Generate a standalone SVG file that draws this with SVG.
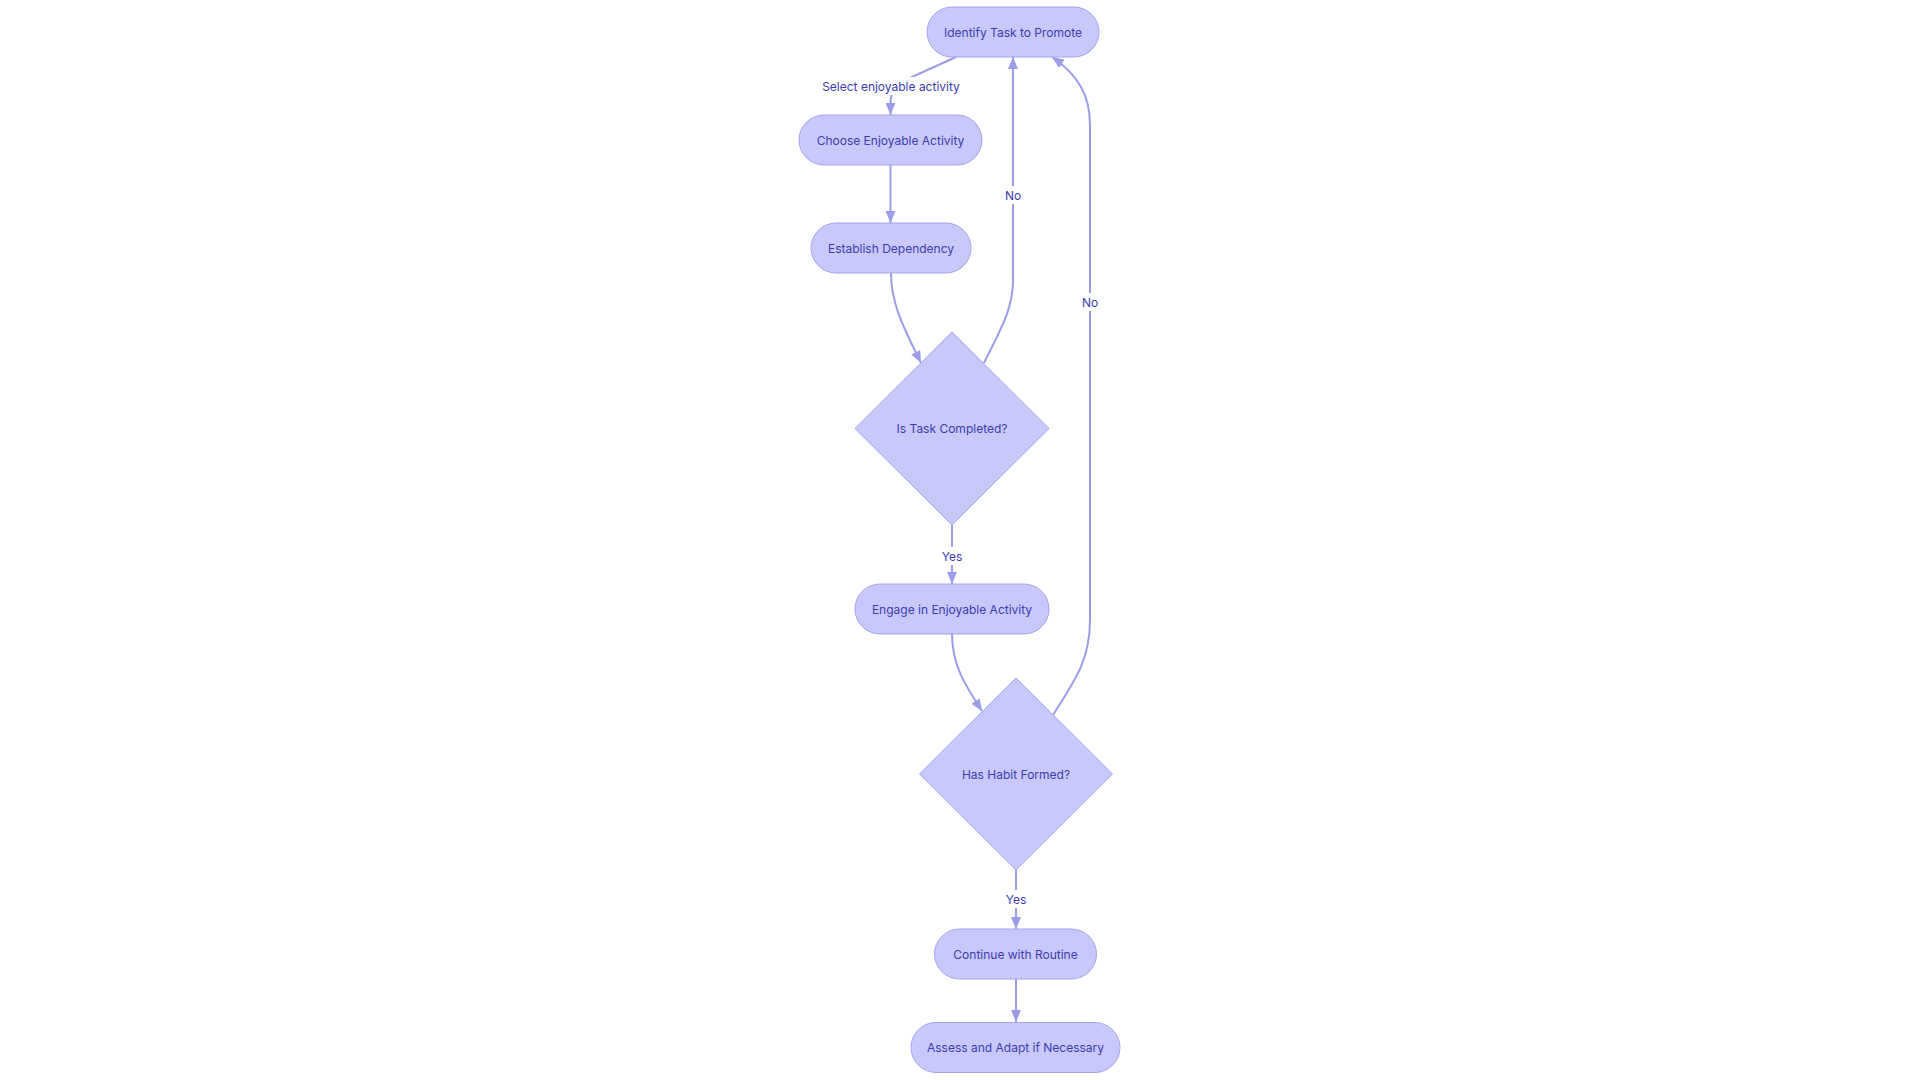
<svg xmlns="http://www.w3.org/2000/svg" width="1920" height="1080" viewBox="0 0 1920 1080">
<defs>
<marker id="arr" viewBox="0 0 12 10" refX="12" refY="5" markerWidth="12" markerHeight="10" markerUnits="userSpaceOnUse" orient="auto">
<path d="M0,0 L12,5 L0,10 Z" fill="#9c9de8"/>
</marker>
<style>
.node rect,.node polygon{fill:#c8c9fa;stroke:#a3a4ea;stroke-width:1}
.node text,.lbl text{font-family:Inter,"Noto Sans",sans-serif;font-size:12px;fill:#3c3cb0;text-anchor:middle;dominant-baseline:central}
.edge{fill:none;stroke:#9c9de8;stroke-width:2}
.lbl rect{fill:#ffffff}
</style>
</defs>
<rect width="1920" height="1080" fill="#ffffff"/>
<g id="connectors">
<path class="edge" d="M956,57 L912,77 Q890,87 890.5,103 L890.5,115" marker-end="url(#arr)"/>
<path class="edge" d="M890.5,165 L890.5,223" marker-end="url(#arr)"/>
<path class="edge" d="M891,273 C891,305 905,330 921,363" marker-end="url(#arr)"/>
<path class="edge" d="M984,363 C1000,330 1013,310 1013,280 L1013,57" marker-end="url(#arr)"/>
<path class="edge" d="M952,525 L952,584" marker-end="url(#arr)"/>
<path class="edge" d="M952,634 C952,665 965,685 982,711" marker-end="url(#arr)"/>
<path class="edge" d="M1053,715 C1075,680 1090,660 1090,620 L1090,125 C1090,95 1078,75 1052,57" marker-end="url(#arr)"/>
<path class="edge" d="M1016,870 L1016,929" marker-end="url(#arr)"/>
<path class="edge" d="M1016,979 L1016,1022" marker-end="url(#arr)"/>
</g>
<g id="edge-labels">
<g class="lbl"><rect x="822" y="77" width="138" height="18"/><text x="891" y="86">Select enjoyable activity</text></g>
<g class="lbl"><rect x="1003" y="186" width="20" height="18"/><text x="1013" y="195">No</text></g>
<g class="lbl"><rect x="1080" y="293" width="20" height="18"/><text x="1090" y="302">No</text></g>
<g class="lbl"><rect x="940" y="547" width="24" height="18"/><text x="952" y="556">Yes</text></g>
<g class="lbl"><rect x="1004" y="890" width="24" height="18"/><text x="1016" y="899">Yes</text></g>
</g>
<g id="identify" class="node"><rect x="927" y="7" width="172" height="50" rx="25"/><text x="1013" y="32">Identify Task to Promote</text></g>
<g id="choose" class="node"><rect x="799" y="115" width="183" height="50" rx="25"/><text x="890.5" y="140">Choose Enjoyable Activity</text></g>
<g id="establish" class="node"><rect x="811" y="223" width="160" height="50" rx="25"/><text x="891" y="248">Establish Dependency</text></g>
<g id="taskCompleted" class="node"><polygon points="952,332 1049,428.5 952,525 855,428.5"/><text x="952" y="428.5">Is Task Completed?</text></g>
<g id="engage" class="node"><rect x="855" y="584" width="194" height="50" rx="25"/><text x="952" y="609">Engage in Enjoyable Activity</text></g>
<g id="habitFormed" class="node"><polygon points="1016,678 1112.5,774 1016,870 919.5,774"/><text x="1016" y="774">Has Habit Formed?</text></g>
<g id="continue" class="node"><rect x="934.5" y="929" width="162" height="50" rx="25"/><text x="1015.5" y="954">Continue with Routine</text></g>
<g id="assess" class="node"><rect x="911" y="1022.5" width="209" height="50" rx="25"/><text x="1015.5" y="1047.5">Assess and Adapt if Necessary</text></g>
</svg>
